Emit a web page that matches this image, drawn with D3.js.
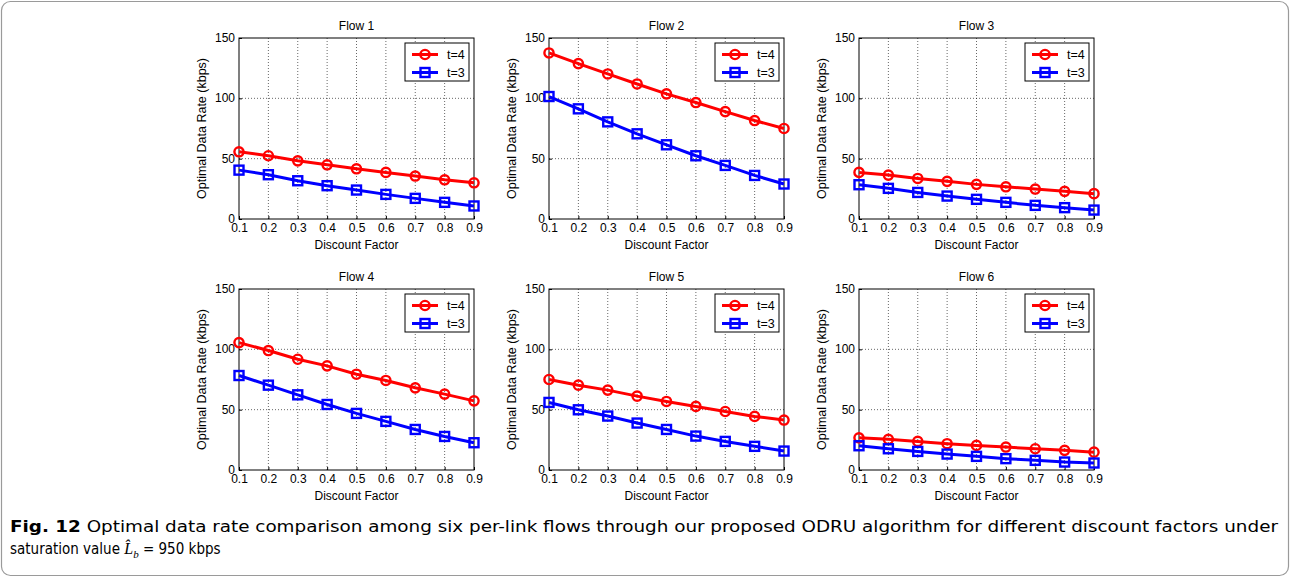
<!DOCTYPE html>
<html>
<head>
<meta charset="utf-8">
<script src="https://cdn.jsdelivr.net/npm/d3@7"></script>
<style>
body { margin: 0; background: #fff; }
svg { display: block; }
</style>
</head>
<body>
<script>
let width = 1291, height = 579

let discount = [0.1, 0.2, 0.3, 0.4, 0.5, 0.6, 0.7, 0.8, 0.9]
let flowNames = ['Flow 1', 'Flow 2', 'Flow 3', 'Flow 4', 'Flow 5', 'Flow 6']
let t4 = [
    [55.7, 52.4, 48.2, 44.9, 41.6, 38.6, 35.6, 32.5, 30.0],
    [137.6, 128.8, 120.2, 111.9, 103.7, 96.5, 89.0, 81.6, 75.0],
    [38.6, 36.4, 33.6, 31.2, 28.7, 26.7, 24.8, 22.9, 21.0],
    [105.6, 99.0, 91.8, 86.3, 79.4, 74.2, 68.1, 62.9, 57.3],
    [75.0, 70.3, 66.2, 61.2, 56.8, 52.7, 48.5, 44.4, 41.4],
    [26.7, 25.4, 23.7, 21.8, 20.4, 19.0, 17.6, 16.3, 14.8]
]
let t3 = [
    [40.5, 36.7, 31.7, 27.6, 24.0, 20.4, 17.1, 13.8, 10.8],
    [101.5, 91.3, 80.5, 70.6, 61.5, 52.4, 44.4, 36.1, 29.0],
    [28.4, 25.4, 22.0, 19.0, 16.3, 13.8, 11.3, 9.4, 7.4],
    [78.3, 70.3, 62.3, 54.3, 46.9, 40.3, 33.6, 27.8, 22.6],
    [56.0, 49.9, 44.7, 38.9, 33.6, 28.1, 23.7, 19.6, 15.7],
    [20.1, 17.6, 15.4, 13.2, 11.3, 9.4, 8.0, 6.6, 5.8]
]
let yTicks = [0, 50, 100, 150]
let legendLabels = ['t=4', 't=3']

let svg = d3.select('body').append('svg')
    .attr('width', width)
    .attr('height', height)

// outer frame
svg.append('rect')
    .attr('x', 1.5).attr('y', 1.5)
    .attr('width', width - 4).attr('height', height - 5)
    .attr('rx', 9)
    .attr('fill', 'none')
    .attr('stroke', '#9a9a9a')
    .attr('stroke-width', 1.2)

let pw = 235, ph = 181
let colX = [239, 549, 859], rowY = [38, 289]

let x = d3.scaleLinear().domain([0.1, 0.9]).range([0, pw])
let y = d3.scaleLinear().domain([0, 150]).range([ph, 0])

let font = 'Liberation Sans, Arial, sans-serif'
let capFont = 'DejaVu Sans Condensed, Open Sans, sans-serif'

function drawPanel(i) {
    let g = svg.append('g')
        .attr('transform', `translate(${colX[i % 3]},${rowY[Math.floor(i / 3)]})`)

    // grid
    g.append('g').selectAll('line').data(discount.slice(1, -1)).join('line')
        .attr('x1', d => x(d)).attr('x2', d => x(d))
        .attr('y1', 0).attr('y2', ph)
        .attr('stroke', '#000').attr('stroke-width', 0.6)
        .attr('stroke-dasharray', '1,2')
    g.append('g').selectAll('line').data(yTicks.slice(1, -1)).join('line')
        .attr('x1', 0).attr('x2', pw)
        .attr('y1', d => y(d)).attr('y2', d => y(d))
        .attr('stroke', '#000').attr('stroke-width', 0.6)
        .attr('stroke-dasharray', '1,2')

    // axes
    let xAxis = g.append('g').attr('transform', `translate(0,${ph})`)
        .call(d3.axisBottom(x).tickValues(discount).tickSize(-3).tickPadding(5).tickFormat(d3.format('.1f')))
    let yAxis = g.append('g')
        .call(d3.axisLeft(y).tickValues(yTicks).tickSize(-3).tickPadding(4))
    for (let a of [xAxis, yAxis]) {
        a.select('.domain').remove()
        a.selectAll('line').attr('stroke', '#000')
        a.selectAll('text').attr('font-family', font).attr('font-size', 12).attr('fill', '#000')
    }
    xAxis.selectAll('text').attr('dy', '0.65em')
    yAxis.selectAll('text').attr('dy', '0.3em')

    g.append('rect')
        .attr('width', pw).attr('height', ph)
        .attr('fill', 'none').attr('stroke', '#000').attr('stroke-width', 1)

    // title & labels
    g.append('text')
        .attr('x', pw / 2).attr('y', -8)
        .attr('text-anchor', 'middle')
        .attr('font-family', font).attr('font-size', 12)
        .text(flowNames[i])
    g.append('text')
        .attr('x', pw / 2).attr('y', ph + 30)
        .attr('text-anchor', 'middle')
        .attr('font-family', font).attr('font-size', 12)
        .text('Discount Factor')
    g.append('text')
        .attr('transform', `translate(-33,${ph / 2}) rotate(-90)`)
        .attr('text-anchor', 'middle')
        .attr('font-family', font).attr('font-size', 12.5)
        .text('Optimal Data Rate (kbps)')

    let line = d3.line().x((d, j) => x(discount[j])).y(d => y(d))

    // t=4
    g.append('path').datum(t4[i])
        .attr('d', line)
        .attr('fill', 'none').attr('stroke', '#ff0000').attr('stroke-width', 3)
    g.append('g').selectAll('circle').data(t4[i]).join('circle')
        .attr('cx', (d, j) => x(discount[j])).attr('cy', d => y(d))
        .attr('r', 4.6)
        .attr('fill', 'none').attr('stroke', '#ff0000').attr('stroke-width', 2.4)

    // t=3
    g.append('path').datum(t3[i])
        .attr('d', line)
        .attr('fill', 'none').attr('stroke', '#0000ff').attr('stroke-width', 3)
    g.append('g').selectAll('rect').data(t3[i]).join('rect')
        .attr('x', (d, j) => x(discount[j]) - 4.5).attr('y', d => y(d) - 4.5)
        .attr('width', 9).attr('height', 9)
        .attr('fill', 'none').attr('stroke', '#0000ff').attr('stroke-width', 2.4)

    // legend
    let lg = g.append('g').attr('transform', `translate(${pw - 69},5)`)
    lg.append('rect')
        .attr('width', 64).attr('height', 38)
        .attr('fill', '#fff').attr('stroke', '#000').attr('stroke-width', 1)
    legendLabels.forEach((lab, k) => {
        let ly = 11.5 + k * 18
        let col = k == 0 ? '#ff0000' : '#0000ff'
        lg.append('line')
            .attr('x1', 7).attr('x2', 33).attr('y1', ly).attr('y2', ly)
            .attr('stroke', col).attr('stroke-width', 3)
        if (k == 0) {
            lg.append('circle').attr('cx', 20).attr('cy', ly).attr('r', 4.6)
                .attr('fill', 'none').attr('stroke', col).attr('stroke-width', 2.4)
        } else {
            lg.append('rect').attr('x', 15.5).attr('y', ly - 4.5).attr('width', 9).attr('height', 9)
                .attr('fill', 'none').attr('stroke', col).attr('stroke-width', 2.4)
        }
        lg.append('text')
            .attr('x', 42).attr('y', ly + 4.5)
            .attr('font-family', font).attr('font-size', 12.5)
            .text(lab)
    })
}

flowNames.forEach((f, i) => drawPanel(i))

// caption
let cap1 = svg.append('text')
    .attr('x', 10).attr('y', 532)
    .attr('font-family', capFont)
    .attr('font-size', 16)
    .attr('textLength', 1268).attr('lengthAdjust', 'spacingAndGlyphs')
cap1.append('tspan').attr('font-weight', 'bold').text('Fig. 12')
cap1.append('tspan').text(' Optimal data rate comparison among six per-link flows through our proposed ODRU algorithm for different discount factors under')

let cap2 = svg.append('text')
    .attr('x', 10).attr('y', 554)
    .attr('font-family', capFont)
    .attr('font-size', 15)
cap2.append('tspan').text('saturation value ')
cap2.append('tspan').attr('font-style', 'italic').attr('font-family', 'Liberation Serif, serif').attr('font-size', 16).text('L\u0302')
cap2.append('tspan').attr('font-style', 'italic').attr('font-family', 'Liberation Serif, serif').attr('font-size', 11).attr('dy', 4).text('b')
cap2.append('tspan').attr('dy', -4).text(' = 950  kbps')
</script>
</body>
</html>
